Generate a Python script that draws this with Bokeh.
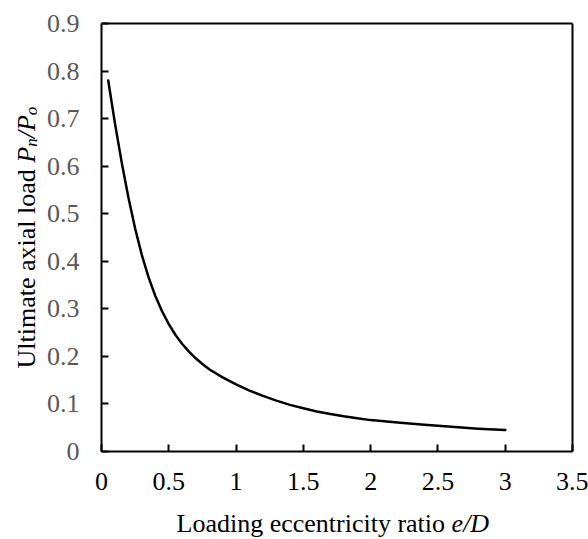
import math
from bokeh.plotting import figure
from bokeh.models import Range1d, FixedTicker, Label, ColumnDataSource, LinearAxis
from bokeh.embed import file_html
from bokeh.resources import INLINE

# ---- data ----
ecc_ratio = [0.05, 0.10, 0.15, 0.20, 0.25, 0.30, 0.35, 0.40, 0.45, 0.50, 0.55,
             0.60, 0.65, 0.70, 0.75, 0.80, 0.90, 1.00, 1.10, 1.20, 1.30, 1.40,
             1.50, 1.60, 1.70, 1.80, 1.90, 2.00, 2.20, 2.40, 2.60, 2.80, 3.00]
load_ratio = [0.780, 0.690, 0.608, 0.534, 0.469, 0.413, 0.366, 0.327, 0.295,
              0.268, 0.245, 0.226, 0.210, 0.196, 0.184, 0.173, 0.156, 0.141,
              0.128, 0.117, 0.107, 0.098, 0.091, 0.084, 0.079, 0.074, 0.070,
              0.066, 0.061, 0.056, 0.052, 0.048, 0.045]

x_ticks = [0, 0.5, 1, 1.5, 2, 2.5, 3, 3.5]
x_tick_labels = ["0", "0.5", "1", "1.5", "2", "2.5", "3", "3.5"]
y_ticks = [0, 0.1, 0.2, 0.3, 0.4, 0.5, 0.6, 0.7, 0.8, 0.9]
y_tick_labels = ["0", "0.1", "0.2", "0.3", "0.4", "0.5", "0.6", "0.7", "0.8", "0.9"]

XMIN, XMAX = 0.0, 3.5
YMIN, YMAX = 0.0, 0.9

# ---- layout (pixels) ----
W, H = 588, 539
FL, FR, FT, FB = 101, 572, 23, 451  # plot-box edges in canvas pixels
SX = (FR - FL) / (XMAX - XMIN)
SY = (FB - FT) / (YMAX - YMIN)
FONT = "Liberation Serif"
FS = 26

# the Bokeh frame covers the whole canvas; axes are pinned at the box edges
x_lo = XMIN - FL / SX
x_hi = XMAX + (W - FR) / SX
y_lo = YMIN - (H - FB) / SY
y_hi = YMAX + FT / SY

p = figure(width=W, height=H, output_backend="svg", toolbar_location=None,
           x_range=Range1d(x_lo, x_hi), y_range=Range1d(y_lo, y_hi),
           min_border=0)
p.background_fill_color = "white"
p.border_fill_color = "white"
p.outline_line_color = None
p.xgrid.visible = False
p.ygrid.visible = False

src = ColumnDataSource(dict(x=ecc_ratio, y=load_ratio))
p.line("x", "y", source=src, line_color="black", line_width=2.5,
       line_join="round", line_cap="round")

xa = p.xaxis[0]
xa.ticker = FixedTicker(ticks=x_ticks)
xa.major_label_overrides = {t: l for t, l in zip(x_ticks, x_tick_labels)}
xa.fixed_location = YMIN
xa.bounds = (XMIN, XMAX)
ya = p.yaxis[0]
ya.ticker = FixedTicker(ticks=y_ticks)
ya.major_label_overrides = {t: l for t, l in zip(y_ticks, y_tick_labels)}
ya.fixed_location = XMIN
ya.bounds = (YMIN, YMAX)

for ax in (xa, ya):
    ax.axis_line_color = "black"
    ax.axis_line_width = 2
    ax.major_tick_line_color = "black"
    ax.major_tick_line_width = 2
    ax.major_tick_in = 7
    ax.major_tick_out = 0
    ax.minor_tick_line_color = None
    ax.major_label_text_font = FONT
    ax.major_label_text_font_size = f"{FS}px"
xa.major_label_text_color = "black"
ya.major_label_text_color = "#595959"
xa.major_label_standoff = 21
ya.major_label_standoff = 22

# top and right border lines of the plot box
top_ax = LinearAxis(fixed_location=YMAX, bounds=(XMIN, XMAX),
                    ticker=FixedTicker(ticks=[]), axis_line_width=2,
                    axis_line_color="black", major_tick_line_color=None,
                    minor_tick_line_color=None, major_label_text_font_size="0px")
right_ax = LinearAxis(fixed_location=XMAX, bounds=(YMIN, YMAX),
                      ticker=FixedTicker(ticks=[]), axis_line_width=2,
                      axis_line_color="black", major_tick_line_color=None,
                      minor_tick_line_color=None, major_label_text_font_size="0px")
p.add_layout(top_ax, "above")
p.add_layout(right_ax, "right")


def dx(px):
    return XMIN + (px - FL) / SX


def dy(py):
    return YMIN + (FB - py) / SY


def add_text(txt, px, py, size=FS, italic=False, angle=0.0, align="left"):
    p.add_layout(Label(x=dx(px), y=dy(py), text=txt, angle=angle,
                       text_font=FONT, text_font_size=f"{size}px",
                       text_font_style="italic" if italic else "normal",
                       text_color="black", text_align=align,
                       text_baseline="alphabetic"))


# x-axis title: "Loading eccentricity ratio e/D"
em = FS / 1000.0
x_start = 176
x_base = 523
add_text("Loading eccentricity ratio", x_start, x_base)
add_text("e/D", x_start + 10581 * em, x_base, italic=True)

# y-axis title: "Ultimate axial load P_n/P_o" (rotated, reading upward)
ang = math.pi / 2
SUB = 17
y_base = 26
sub_shift = 5
y0 = 368
pieces = [
    ("Ultimate axial load", FS, False, 0, 7916 * em),
    ("P", FS, True, 0, 611 * em),
    ("n", SUB, True, sub_shift, 500 * SUB / 1000.0),
    ("/", FS, True, 0, 278 * em),
    ("P", FS, True, 0, 611 * em),
    ("o", SUB, True, sub_shift, 500 * SUB / 1000.0),
]
cur = y0
for txt, size, it, sh, w in pieces:
    add_text(txt, y_base + sh, cur, size=size, italic=it, angle=ang)
    cur -= w

open("out.html", "w").write(file_html(p, INLINE))
